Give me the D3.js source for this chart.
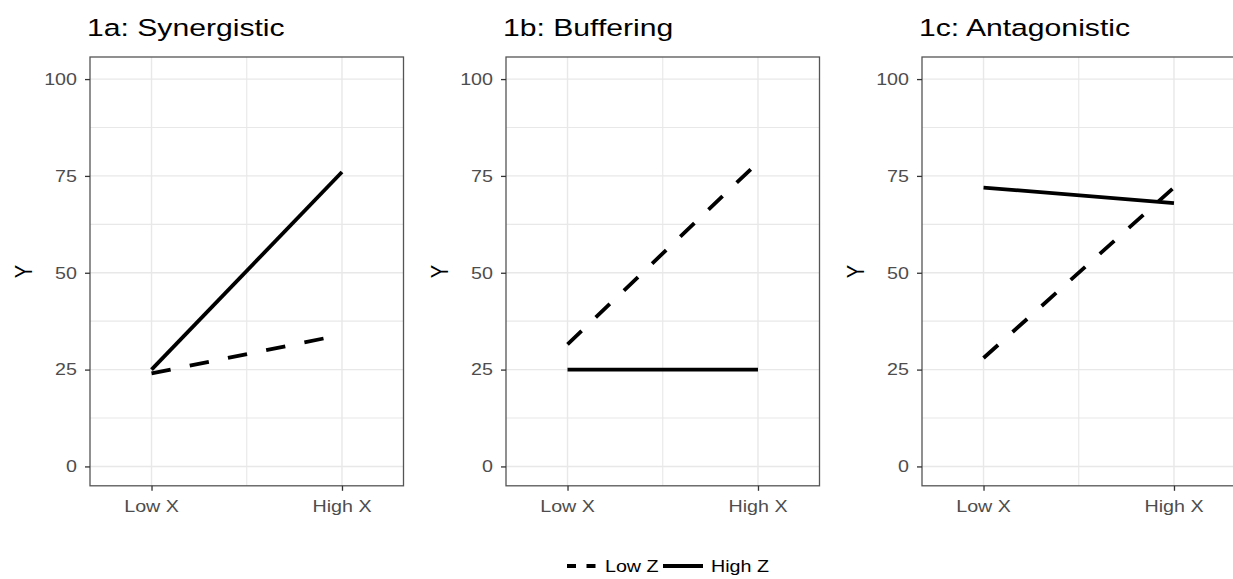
<!DOCTYPE html>
<html>
<head>
<meta charset="utf-8">
<script src="https://cdn.jsdelivr.net/npm/d3@7"></script>
<style>
  body { margin: 0; background: #fff; }
  text { font-family: "Liberation Sans", Arial, sans-serif; }
</style>
</head>
<body>
<div id="container"></div>
<script>
const titles = ['1a: Synergistic', '1b: Buffering', '1c: Antagonistic'];
const xLabels = ['Low X', 'High X'];
const yTicks = [0, 25, 50, 75, 100];
const yMinor = [12.5, 37.5, 62.5, 87.5];
const seriesNames = ['Low Z', 'High Z'];
// values at Low X, High X for each panel
const lowZ = [[24, 34], [31.5, 78.5], [28, 72]];
const highZ = [[25, 76], [25, 25], [72, 68]];

const w = 1233;
const h = 579;
const stretch = 1.23; // the reference is a bit wider than tall
const panelW = 313.5;
const panelTop = 57;
const panelBottom = 485.8;
const step = 416;
const first = 90;

const svg = d3.select('#container')
              .append('svg')
              .attr('width', w)
              .attr('height', h);

// text that is pulled wide like in the picture
const label = (parent, x, y, str, size, anchor, fill, rot) => {
  const g = parent.append('g')
                  .attr('transform', `translate(${x},${y}) scale(${stretch},1)` + (rot ? ` rotate(${rot})` : ''));
  return g.append('text')
          .attr('text-anchor', anchor)
          .attr('font-size', size)
          .attr('fill', fill)
          .text(str);
};

const yScale = d3.scaleLinear().domain([-5, 105.7]).range([panelBottom, panelTop]);

titles.forEach((t, i) => {
  const left = first + i * step;
  const xScale = d3.scaleLinear().domain([0.677, 2.323]).range([left, left + panelW]);
  const p = svg.append('g');

  // grid
  p.selectAll('.minorY').data(yMinor).enter().append('line')
   .attr('x1', left).attr('x2', left + panelW)
   .attr('y1', (d) => yScale(d)).attr('y2', (d) => yScale(d))
   .attr('stroke', '#e8e8e8').attr('stroke-width', 1.1);
  p.selectAll('.minorX').data([1.5]).enter().append('line')
   .attr('y1', panelTop).attr('y2', panelBottom)
   .attr('x1', (d) => xScale(d)).attr('x2', (d) => xScale(d))
   .attr('stroke', '#e8e8e8').attr('stroke-width', 1.1);
  p.selectAll('.majorY').data(yTicks).enter().append('line')
   .attr('x1', left).attr('x2', left + panelW)
   .attr('y1', (d) => yScale(d)).attr('y2', (d) => yScale(d))
   .attr('stroke', '#e8e8e8').attr('stroke-width', 1.4);
  p.selectAll('.majorX').data([1, 2]).enter().append('line')
   .attr('y1', panelTop).attr('y2', panelBottom)
   .attr('x1', (d) => xScale(d)).attr('x2', (d) => xScale(d))
   .attr('stroke', '#e8e8e8').attr('stroke-width', 1.4);

  // lines
  const line = d3.line().x((d, j) => xScale(j + 1)).y((d) => yScale(d));
  p.append('path')
   .attr('d', line(lowZ[i]))
   .attr('fill', 'none').attr('stroke', '#000').attr('stroke-width', 3.8)
   .attr('stroke-dasharray', '19.5,19.5');
  p.append('path')
   .attr('d', line(highZ[i]))
   .attr('fill', 'none').attr('stroke', '#000').attr('stroke-width', 3.8);

  // border
  p.append('rect')
   .attr('x', left).attr('y', panelTop)
   .attr('width', panelW).attr('height', panelBottom - panelTop)
   .attr('fill', 'none').attr('stroke', '#555').attr('stroke-width', 1.3);

  // y axis
  const yAxis = d3.axisLeft(yScale).tickValues(yTicks).tickSize(5).tickFormat('');
  const ya = p.append('g').attr('transform', `translate(${left},0)`).call(yAxis);
  ya.select('.domain').remove();
  ya.selectAll('line').attr('stroke', '#333').attr('stroke-width', 1.3);
  yTicks.forEach((v) => {
    label(p, left - 13, yScale(v) + 5.8, v, 16, 'end', '#4d4d4d');
  });

  // x axis
  const xAxis = d3.axisBottom(xScale).tickValues([1, 2]).tickSize(5).tickFormat('');
  const xa = p.append('g').attr('transform', `translate(0,${panelBottom})`).call(xAxis);
  xa.select('.domain').remove();
  xa.selectAll('line').attr('stroke', '#333').attr('stroke-width', 1.3);
  xLabels.forEach((s, j) => {
    label(p, xScale(j + 1), 511.5, s, 16, 'middle', '#4d4d4d');
  });

  label(p, left - 3, 35.7, t, 24.5, 'start', '#000');
  label(p, left - 58, 271.5, 'Y', 20, 'middle', '#000', -90);
});

// legend
const lg = svg.append('g');
lg.append('line').attr('x1', 567).attr('x2', 597).attr('y1', 566).attr('y2', 566)
  .attr('stroke', '#000').attr('stroke-width', 3.8).attr('stroke-dasharray', '9,10.5');
label(lg, 605, 571.5, seriesNames[0], 16, 'start', '#000');
lg.append('line').attr('x1', 663).attr('x2', 703).attr('y1', 566).attr('y2', 566)
  .attr('stroke', '#000').attr('stroke-width', 3.8);
label(lg, 711, 571.5, seriesNames[1], 16, 'start', '#000');
</script>
</body>
</html>
